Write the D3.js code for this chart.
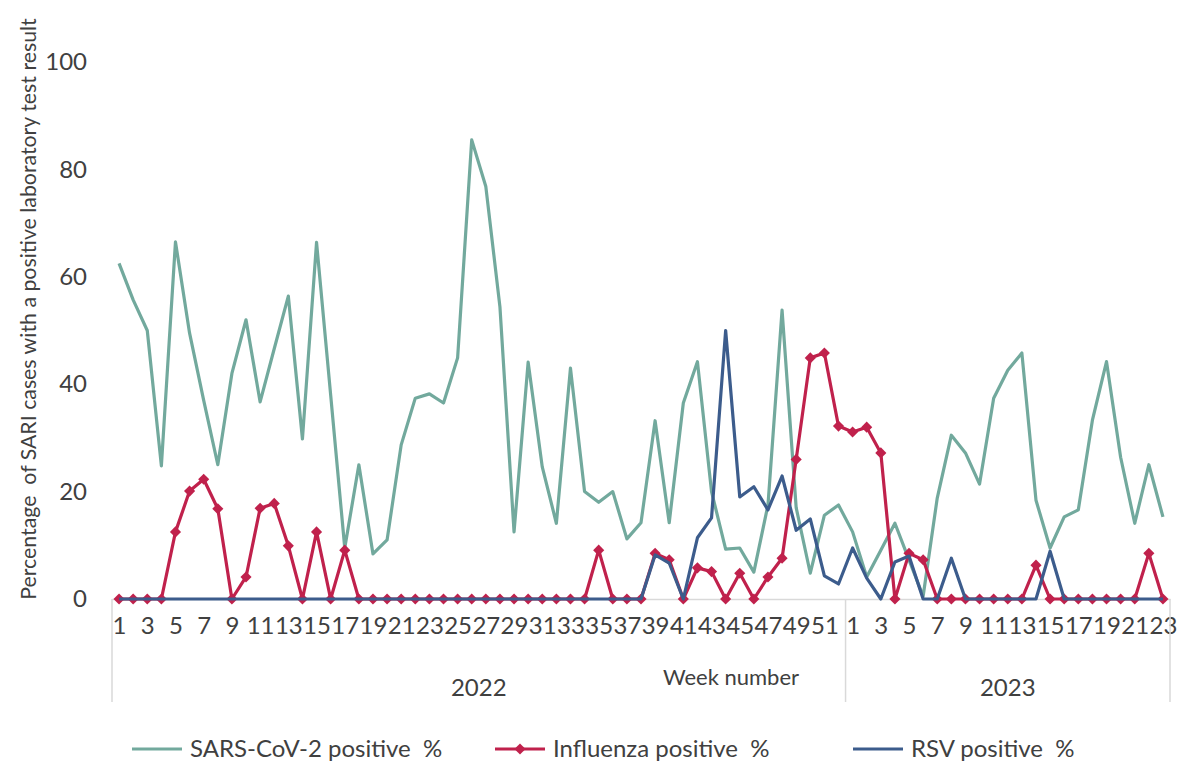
<!DOCTYPE html>
<html>
<head>
<meta charset="utf-8">
<script src="https://cdn.jsdelivr.net/npm/d3@7/dist/d3.min.js"></script>
<style>
    body { margin: 0; background: #fff; }
    text { font-family: Lato, "Liberation Sans", Arial, sans-serif; fill: #404040; white-space: pre; }
</style>
</head>
<body>
<div id="chart"></div>
<script>
var years = ["2022", "2023"];
var weeks2022 = [1, 2, 3, 4, 5, 6, 7, 8, 9, 10, 11, 12, 13, 14, 15, 16, 17, 18, 19, 20, 21, 22, 23, 24, 25, 26,
    27, 28, 29, 30, 31, 32, 33, 34, 35, 36, 37, 38, 39, 40, 41, 42, 43, 44, 45, 46, 47, 48, 49, 50, 51, 52];
var weeks2023 = [1, 2, 3, 4, 5, 6, 7, 8, 9, 10, 11, 12, 13, 14, 15, 16, 17, 18, 19, 20, 21, 22, 23];

var sars2022 = [62.5, 55.7, 50, 24.8, 66.5, 49.5, 37, 25, 42, 52, 36.7, 46.6, 56.4, 29.8, 66.4, 38, 9.5, 25, 8.4, 11,
    28.7, 37.4, 38.2, 36.5, 44.9, 85.5, 76.8, 54.4, 12.5, 44.1, 24.6, 14.1, 43, 20, 18, 20, 11.2, 14.2, 33.2, 14.2,
    36.5, 44.2, 20, 9.3, 9.5, 5, 17.5, 53.8, 17, 4.8, 15.6, 17.5];
var sars2023 = [12.5, 4.1, 9.1, 14.1, 7.3, 0.5, 18.8, 30.5, 27.2, 21.4, 37.4, 42.6, 45.8, 18.4, 9.5, 15.3, 16.6,
    33.3, 44.2, 26.4, 14.1, 25, 15.3];

var flu2022 = [0, 0, 0, 0, 12.5, 20.1, 22.3, 16.8, 0, 4.1, 16.9, 17.8, 9.9, 0, 12.5, 0, 9.1, 0, 0, 0,
    0, 0, 0, 0, 0, 0, 0, 0, 0, 0, 0, 0, 0, 0, 9.1, 0, 0, 0, 8.5, 7.3,
    0, 5.8, 5.1, 0, 4.8, 0, 4.1, 7.6, 26, 44.9, 45.8, 32.2];
var flu2023 = [31.1, 32, 27.2, 0, 8.5, 7.3, 0, 0, 0, 0, 0, 0, 0, 6.3, 0, 0, 0, 0, 0, 0, 0, 8.5, 0];

var rsv2022 = [0, 0, 0, 0, 0, 0, 0, 0, 0, 0, 0, 0, 0, 0, 0, 0, 0, 0, 0, 0,
    0, 0, 0, 0, 0, 0, 0, 0, 0, 0, 0, 0, 0, 0, 0, 0, 0, 0, 8.2, 6.7,
    0, 11.4, 15.1, 50, 19, 20.9, 16.6, 22.9, 12.8, 14.9, 4.3, 2.8];
var rsv2023 = [9.5, 3.9, 0, 6.9, 8, 0, 0, 7.6, 0, 0, 0, 0, 0, 0, 8.9, 0, 0, 0, 0, 0, 0, 0, 0];

var yTicks = [0, 20, 40, 60, 80, 100];
var seriesNames = ["SARS-CoV-2 positive  %", "Influenza positive  %", "RSV positive  %"];
var seriesColors = ["#72a99d", "#c0214c", "#3c5c8c"];

function init() {
    var w = 1179;
    var h = 763;
    var left = 112, right = 1170, top = 62, bottom = 599;

    // one row per week, both years in a row
    var keys = [];
    var weekOf = {};
    var yearOf = {};
    weeks2022.forEach(function(wk) { var k = "2022-" + wk; keys.push(k); weekOf[k] = wk; yearOf[k] = "2022"; });
    weeks2023.forEach(function(wk) { var k = "2023-" + wk; keys.push(k); weekOf[k] = wk; yearOf[k] = "2023"; });

    var series = [
        { name: seriesNames[0], color: seriesColors[0], marker: false, values: sars2022.concat(sars2023) },
        { name: seriesNames[1], color: seriesColors[1], marker: true, values: flu2022.concat(flu2023) },
        { name: seriesNames[2], color: seriesColors[2], marker: false, values: rsv2022.concat(rsv2023) }
    ];

    var x = d3.scalePoint()
        .domain(keys)
        .range([left, right])
        .padding(0.5);
    var step = x.step();

    var y = d3.scaleLinear()
        .domain([0, 100])
        .range([bottom, top]);

    var svg = d3.select("#chart")
        .append("svg")
        .attr("width", w)
        .attr("height", h);

    // y axis, labels only
    var yAxis = svg.append("g")
        .attr("transform", `translate(${left},0)`)
        .call(d3.axisLeft(y).tickValues(yTicks).tickSize(0).tickPadding(25));
    yAxis.select(".domain").remove();
    yAxis.selectAll("text")
        .attr("font-size", 24)
        .attr("font-family", null);

    // x axis line and week labels
    var xAxis = svg.append("g")
        .attr("transform", `translate(0,${bottom})`)
        .call(d3.axisBottom(x)
            .tickValues(keys.filter(function(d, i) { return i % 2 === 0; }))
            .tickFormat(function(d) { return weekOf[d]; })
            .tickSize(0)
            .tickPadding(18));
    xAxis.select(".domain")
        .attr("stroke", "#d9d9d9")
        .attr("stroke-width", 1.5);
    xAxis.selectAll("text")
        .attr("font-size", 24)
        .attr("font-family", null);

    // year group separators and labels
    var bounds = [left];
    years.forEach(function(yr) {
        var ks = keys.filter(function(k) { return yearOf[k] === yr; });
        bounds.push(x(ks[ks.length - 1]) + step / 2);
    });
    svg.selectAll("line.sep")
        .data(bounds)
        .enter()
        .append("line")
        .attr("class", "sep")
        .attr("x1", function(d) { return d; })
        .attr("x2", function(d) { return d; })
        .attr("y1", bottom)
        .attr("y2", bottom + 103)
        .attr("stroke", "#d9d9d9")
        .attr("stroke-width", 1.5);

    svg.selectAll("text.year")
        .data(years)
        .enter()
        .append("text")
        .attr("class", "year")
        .text(function(d) { return d; })
        .attr("x", function(d, i) { return (bounds[i] + bounds[i + 1]) / 2; })
        .attr("y", 696)
        .attr("text-anchor", "middle")
        .attr("font-size", 24);

    svg.append("text")
        .text("Week number")
        .attr("x", 731)
        .attr("y", 685)
        .attr("text-anchor", "middle")
        .attr("font-size", 22);

    svg.append("text")
        .text("Percentage  of SARI cases with a positive laboratory test result")
        .attr("transform", "translate(36,309) rotate(-90)")
        .attr("text-anchor", "middle")
        .attr("font-size", 21.3);

    // lines
    var line = d3.line()
        .x(function(d, i) { return x(keys[i]); })
        .y(function(d) { return y(d); });

    var diamond = d3.symbol().type(d3.symbolSquare).size(62);

    series.forEach(function(s) {
        svg.append("path")
            .datum(s.values)
            .attr("d", line)
            .attr("fill", "none")
            .attr("stroke", s.color)
            .attr("stroke-width", 3.2)
            .attr("stroke-linejoin", "round");
        if (s.marker) {
            svg.append("g")
                .selectAll("path")
                .data(s.values)
                .enter()
                .append("path")
                .attr("d", diamond)
                .attr("transform", function(d, i) { return `translate(${x(keys[i])},${y(d)}) rotate(45)`; })
                .attr("fill", s.color);
        }
    });

    // legend
    var legendX = [132, 495, 853];
    var legend = svg.selectAll("g.legend")
        .data(series)
        .enter()
        .append("g")
        .attr("class", "legend")
        .attr("transform", function(d, i) { return `translate(${legendX[i]},749)`; });
    legend.append("line")
        .attr("x1", 0)
        .attr("x2", 50)
        .attr("stroke", function(d) { return d.color; })
        .attr("stroke-width", 3.2);
    legend.filter(function(d) { return d.marker; })
        .append("path")
        .attr("d", diamond)
        .attr("transform", "translate(25,0) rotate(45)")
        .attr("fill", function(d) { return d.color; });
    legend.append("text")
        .text(function(d) { return d.name; })
        .attr("x", 58)
        .attr("dy", "0.35em")
        .attr("font-size", 24);
}

window.onload = init;
</script>
</body>
</html>
